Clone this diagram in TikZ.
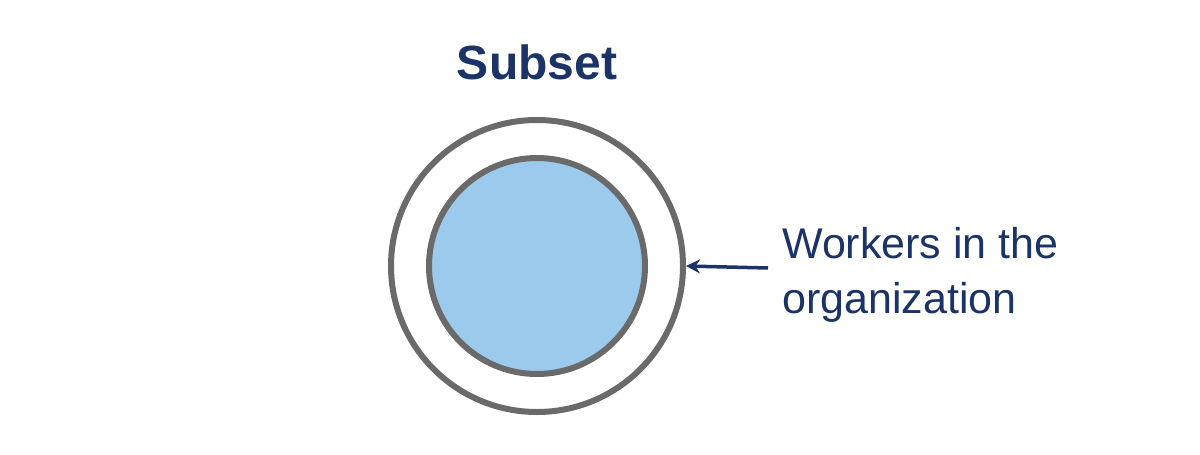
\documentclass[tikz,border=0pt]{standalone}
\usepackage{fontspec}
\setmainfont{Liberation Sans}
\usetikzlibrary{arrows.meta}
\definecolor{navy}{HTML}{1B3366}
\definecolor{ring}{HTML}{6A6A6A}
\definecolor{fillb}{HTML}{9CCAEC}
\begin{document}
\begin{tikzpicture}[x=1pt,y=-1pt,
  circ/.style={circle,draw=ring,line width=6pt,inner sep=0pt},
  lbl/.style={text=navy,font=\fontsize{43}{55}\selectfont,align=left,anchor=west,inner sep=0pt}]
\useasboundingbox (0,0) rectangle (1200,455);
\node[circ,minimum size=292pt] (outer) at (537,266) {};
\node[circ,fill=fillb,minimum size=216pt] (inner) at (537,266) {};
\node[text=navy,font=\bfseries\fontsize{48}{56}\selectfont] (title) at (537,62) {Subset};
\node[lbl] (txt) at (782,275) {Workers in the\\organization};
\coordinate (s) at (768,268);
\draw[navy,line width=3.5pt,-{Stealth[length=14pt,width=14pt]}] (s) -- (outer.east);
\end{tikzpicture}
\end{document}
